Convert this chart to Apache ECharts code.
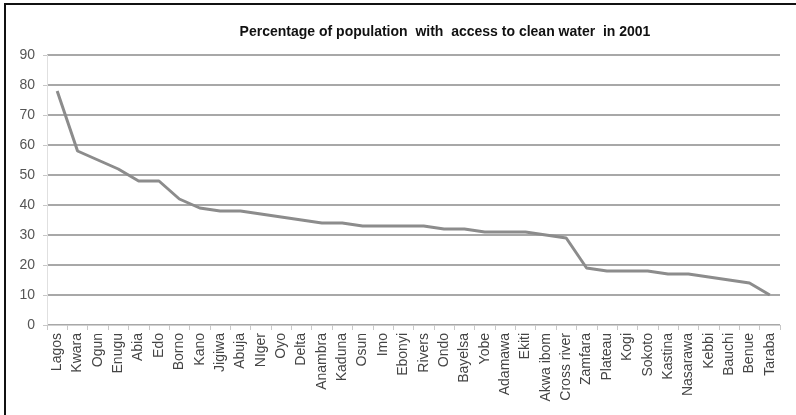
<!DOCTYPE html>
<html>
<head>
<meta charset="utf-8">
<script src="https://cdn.jsdelivr.net/npm/echarts@6/dist/echarts.min.js"></script>
<style>
  html, body { margin: 0; padding: 0; background: #fff; }
  #chart { width: 796px; height: 415px; }
</style>
</head>
<body>
<div id="chart"></div>
<script>
// States ordered from highest to lowest access
const states = [
  'Lagos', 'Kwara', 'Ogun', 'Enugu', 'Abia', 'Edo', 'Borno', 'Kano', 'Jigiwa',
  'Abuja', 'NIger', 'Oyo', 'Delta', 'Anambra', 'Kaduna', 'Osun', 'Imo', 'Ebonyi',
  'Rivers', 'Ondo', 'Bayelsa', 'Yobe', 'Adamawa', 'Ekiti', 'Akwa ibom', 'Cross river',
  'Zamfara', 'Plateau', 'Kogi', 'Sokoto', 'Kastina', 'Nasarawa', 'Kebbi', 'Bauchi',
  'Benue', 'Taraba'
];

// Percentage of population with access to clean water
const accessPct = [
  78, 58, 55, 52, 48, 48, 42, 39, 38,
  38, 37, 36, 35, 34, 34, 33, 33, 33,
  33, 32, 32, 31, 31, 31, 30, 29,
  19, 18, 18, 18, 17, 17, 16, 15,
  14, 10
];

const yTicks = { min: 0, max: 90, step: 10 };

const chartTitle = 'Percentage of population  with  access to clean water  in 2001';

const chart = echarts.init(document.getElementById('chart'), null, { renderer: 'canvas' });

const font = 'Liberation Sans, Arial, sans-serif';

chart.setOption({
  animation: false,
  backgroundColor: '#fff',
  title: {
    text: chartTitle,
    left: 440,
    top: 20,
    textAlign: 'center',
    textStyle: { fontFamily: font, fontSize: 14, fontWeight: 'bold', color: '#111' }
  },
  grid: { left: 47, right: 16, top: 55, bottom: 90, containLabel: false },
  xAxis: {
    type: 'category',
    data: states,
    boundaryGap: true,
    axisLine: { lineStyle: { color: '#d0d0d0', width: 1 } },
    axisTick: { show: true, length: 5, lineStyle: { color: '#c8c8c8' } },
    axisLabel: {
      rotate: 90,
      interval: 0,
      margin: 8,
      fontFamily: font,
      fontSize: 14,
      color: '#444'
    }
  },
  yAxis: {
    type: 'value',
    min: yTicks.min,
    max: yTicks.max,
    interval: yTicks.step,
    axisLine: { show: true, lineStyle: { color: '#e0e0e0', width: 1 } },
    axisTick: { show: true, length: 4, lineStyle: { color: '#c8c8c8' } },
    axisLabel: { fontFamily: font, fontSize: 14, color: '#555', margin: 12 },
    splitLine: { show: true, lineStyle: { color: '#a8a8a8', width: 2 } }
  },
  series: [{
    type: 'line',
    data: accessPct,
    showSymbol: false,
    symbol: 'none',
    lineStyle: { color: '#8c8c8c', width: 3 },
    itemStyle: { color: '#8c8c8c' }
  }],
  graphic: [{
    type: 'rect',
    shape: { x: 5, y: 4, width: 800, height: 420 },
    style: { fill: null, stroke: '#111', lineWidth: 2 },
    silent: true
  }]
});
</script>
</body>
</html>
